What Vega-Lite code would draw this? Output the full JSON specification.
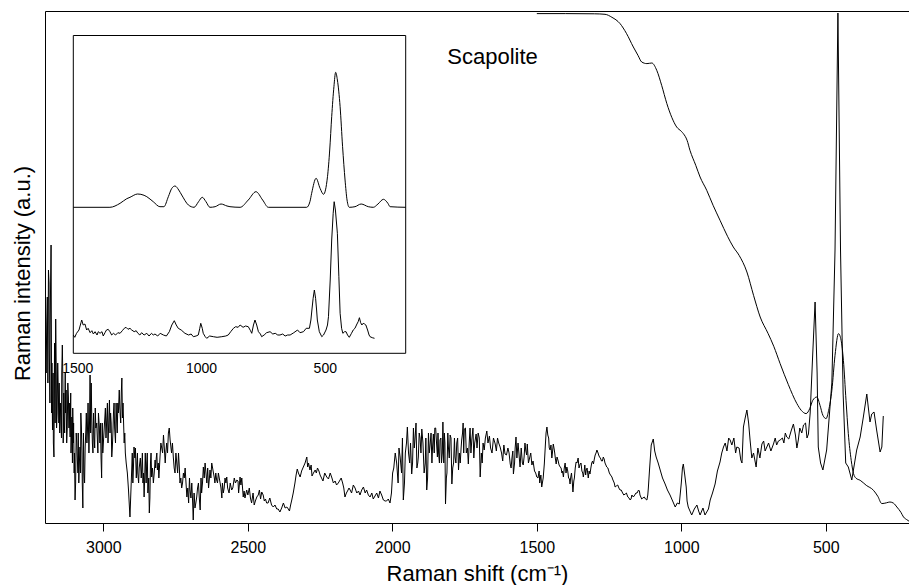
{
  "$schema": "https://vega.github.io/schema/vega-lite/v6.json",
  "width": 864,
  "height": 512,
  "autosize": {"type": "none"},
  "padding": {"left": 45, "top": 11, "right": 0, "bottom": 62},
  "background": "white",
  "config": {
    "font": "Liberation Sans",
    "view": {"stroke": null},
    "axis": {"grid": false, "labelColor": "black", "titleColor": "black", "domainColor": "black", "tickColor": "black", "titleFontWeight": "normal", "labelFont": "Liberation Sans", "titleFont": "Liberation Sans"}
  },
  "datasets": {
    "raw": [
      {"w":3202,"v":120},{"w":3198,"v":150},{"w":3194,"v":226},{"w":3190,"v":253},{"w":3187,"v":170},{"w":3184,"v":193},{"w":3181,"v":278},{"w":3178,"v":160},{"w":3176,"v":93},{"w":3171,"v":66},{"w":3168,"v":140},{"w":3165,"v":204},{"w":3160,"v":110},{"w":3156,"v":133},{"w":3151,"v":90},{"w":3147,"v":100},{"w":3144,"v":150},{"w":3142,"v":178},{"w":3139,"v":80},{"w":3136,"v":106},{"w":3132,"v":150},{"w":3129,"v":133},{"w":3125,"v":95},{"w":3121,"v":126},{"w":3118,"v":120},{"w":3115,"v":86},{"w":3112,"v":70},{"w":3109,"v":106},{"w":3106,"v":115},{"w":3104,"v":80},{"w":3101,"v":50},{"w":3098,"v":23},{"w":3094,"v":90},{"w":3090,"v":63},{"w":3085,"v":40},{"w":3081,"v":76},{"w":3076,"v":95},{"w":3071,"v":15},{"w":3067,"v":50},{"w":3063,"v":76},{"w":3059,"v":110},{"w":3055,"v":93},{"w":3050,"v":70},{"w":3046,"v":148},{"w":3043,"v":125},{"w":3040,"v":103},{"w":3036,"v":70},{"w":3032,"v":86},{"w":3028,"v":115},{"w":3023,"v":100},{"w":3019,"v":70},{"w":3014,"v":96},{"w":3010,"v":100},{"w":3006,"v":45},{"w":3002,"v":70},{"w":2998,"v":90},{"w":2993,"v":115},{"w":2988,"v":106},{"w":2984,"v":80},{"w":2979,"v":123},{"w":2975,"v":110},{"w":2971,"v":66},{"w":2967,"v":90},{"w":2963,"v":120},{"w":2958,"v":80},{"w":2954,"v":103},{"w":2950,"v":120},{"w":2945,"v":133},{"w":2940,"v":100},{"w":2936,"v":145},{"w":2932,"v":120},{"w":2928,"v":80},{"w":2924,"v":70},{"w":2921,"v":60},{"w":2917,"v":50},{"w":2913,"v":33},{"w":2908,"v":6},{"w":2902,"v":53},{"w":2898,"v":40},{"w":2894,"v":76},{"w":2889,"v":75},{"w":2884,"v":60},{"w":2881,"v":50},{"w":2878,"v":40},{"w":2872,"v":65},{"w":2867,"v":56},{"w":2863,"v":40},{"w":2859,"v":26},{"w":2855,"v":70},{"w":2850,"v":60},{"w":2846,"v":30},{"w":2841,"v":10},{"w":2837,"v":60},{"w":2833,"v":46},{"w":2827,"v":40},{"w":2821,"v":63},{"w":2817,"v":65},{"w":2813,"v":53},{"w":2808,"v":45},{"w":2804,"v":66},{"w":2798,"v":75},{"w":2792,"v":88},{"w":2786,"v":60},{"w":2781,"v":80},{"w":2775,"v":90},{"w":2769,"v":83},{"w":2764,"v":70},{"w":2758,"v":66},{"w":2752,"v":50},{"w":2746,"v":60},{"w":2740,"v":70},{"w":2735,"v":40},{"w":2729,"v":35},{"w":2723,"v":50},{"w":2717,"v":55},{"w":2711,"v":26},{"w":2705,"v":20},{"w":2700,"v":33},{"w":2694,"v":40},{"w":2689,"v":3},{"w":2683,"v":15},{"w":2677,"v":26},{"w":2671,"v":40},{"w":2665,"v":13},{"w":2660,"v":30},{"w":2654,"v":56},{"w":2648,"v":60},{"w":2642,"v":40},{"w":2636,"v":35},{"w":2631,"v":53},{"w":2625,"v":60},{"w":2619,"v":50},{"w":2614,"v":40},{"w":2608,"v":43},{"w":2602,"v":50},{"w":2596,"v":40},{"w":2590,"v":25},{"w":2585,"v":30},{"w":2579,"v":45},{"w":2573,"v":46},{"w":2565,"v":30},{"w":2556,"v":33},{"w":2547,"v":45},{"w":2538,"v":43},{"w":2532,"v":30},{"w":2527,"v":46},{"w":2521,"v":45},{"w":2516,"v":26},{"w":2510,"v":25},{"w":2504,"v":33},{"w":2495,"v":35},{"w":2487,"v":20},{"w":2478,"v":18},{"w":2469,"v":26},{"w":2460,"v":33},{"w":2452,"v":31},{"w":2443,"v":22},{"w":2435,"v":20},{"w":2424,"v":25},{"w":2412,"v":16},{"w":2400,"v":14},{"w":2389,"v":11},{"w":2377,"v":20},{"w":2365,"v":16},{"w":2356,"v":12},{"w":2348,"v":23},{"w":2337,"v":40},{"w":2329,"v":54},{"w":2319,"v":46},{"w":2308,"v":56},{"w":2296,"v":66},{"w":2290,"v":60},{"w":2285,"v":53},{"w":2278,"v":47},{"w":2267,"v":53},{"w":2259,"v":55},{"w":2250,"v":48},{"w":2240,"v":42},{"w":2227,"v":46},{"w":2215,"v":50},{"w":2204,"v":40},{"w":2193,"v":38},{"w":2181,"v":43},{"w":2172,"v":40},{"w":2164,"v":26},{"w":2155,"v":32},{"w":2146,"v":33},{"w":2135,"v":38},{"w":2123,"v":30},{"w":2112,"v":28},{"w":2100,"v":36},{"w":2089,"v":33},{"w":2077,"v":26},{"w":2066,"v":24},{"w":2054,"v":30},{"w":2043,"v":32},{"w":2031,"v":23},{"w":2020,"v":22},{"w":2008,"v":20},{"w":1999,"v":50},{"w":1985,"v":60},{"w":1973,"v":66},{"w":1962,"v":23},{"w":1955,"v":70},{"w":1948,"v":96},{"w":1940,"v":60},{"w":1933,"v":49},{"w":1927,"v":95},{"w":1921,"v":86},{"w":1915,"v":55},{"w":1910,"v":66},{"w":1904,"v":85},{"w":1898,"v":94},{"w":1890,"v":50},{"w":1881,"v":33},{"w":1875,"v":90},{"w":1869,"v":79},{"w":1863,"v":60},{"w":1858,"v":89},{"w":1850,"v":95},{"w":1844,"v":66},{"w":1840,"v":70},{"w":1835,"v":83},{"w":1830,"v":60},{"w":1825,"v":101},{"w":1820,"v":90},{"w":1816,"v":19},{"w":1811,"v":50},{"w":1806,"v":76},{"w":1800,"v":88},{"w":1794,"v":39},{"w":1788,"v":60},{"w":1783,"v":66},{"w":1777,"v":80},{"w":1771,"v":53},{"w":1765,"v":60},{"w":1760,"v":83},{"w":1755,"v":100},{"w":1751,"v":94},{"w":1744,"v":70},{"w":1737,"v":59},{"w":1731,"v":95},{"w":1725,"v":83},{"w":1718,"v":65},{"w":1710,"v":89},{"w":1703,"v":90},{"w":1696,"v":46},{"w":1689,"v":60},{"w":1682,"v":73},{"w":1673,"v":92},{"w":1664,"v":87},{"w":1655,"v":70},{"w":1644,"v":79},{"w":1636,"v":85},{"w":1627,"v":76},{"w":1618,"v":62},{"w":1610,"v":69},{"w":1600,"v":75},{"w":1592,"v":59},{"w":1586,"v":65},{"w":1581,"v":49},{"w":1577,"v":60},{"w":1572,"v":86},{"w":1565,"v":80},{"w":1558,"v":56},{"w":1550,"v":60},{"w":1544,"v":66},{"w":1538,"v":72},{"w":1533,"v":79},{"w":1525,"v":65},{"w":1517,"v":58},{"w":1508,"v":52},{"w":1500,"v":46},{"w":1492,"v":52},{"w":1490,"v":40},{"w":1483,"v":36},{"w":1474,"v":59},{"w":1470,"v":80},{"w":1465,"v":96},{"w":1459,"v":85},{"w":1454,"v":73},{"w":1448,"v":65},{"w":1443,"v":79},{"w":1438,"v":70},{"w":1433,"v":59},{"w":1426,"v":62},{"w":1419,"v":56},{"w":1413,"v":50},{"w":1408,"v":46},{"w":1402,"v":60},{"w":1396,"v":56},{"w":1390,"v":45},{"w":1385,"v":39},{"w":1380,"v":50},{"w":1375,"v":31},{"w":1370,"v":45},{"w":1364,"v":61},{"w":1357,"v":65},{"w":1350,"v":59},{"w":1344,"v":52},{"w":1339,"v":46},{"w":1334,"v":58},{"w":1329,"v":53},{"w":1322,"v":45},{"w":1316,"v":49},{"w":1310,"v":60},{"w":1304,"v":59},{"w":1298,"v":68},{"w":1292,"v":73},{"w":1288,"v":70},{"w":1283,"v":66},{"w":1276,"v":62},{"w":1270,"v":66},{"w":1264,"v":60},{"w":1258,"v":56},{"w":1249,"v":50},{"w":1240,"v":46},{"w":1235,"v":42},{"w":1229,"v":36},{"w":1220,"v":38},{"w":1212,"v":33},{"w":1203,"v":30},{"w":1194,"v":29},{"w":1185,"v":26},{"w":1177,"v":23},{"w":1171,"v":28},{"w":1166,"v":26},{"w":1157,"v":30},{"w":1148,"v":33},{"w":1143,"v":28},{"w":1137,"v":24},{"w":1128,"v":26},{"w":1119,"v":23},{"w":1114,"v":35},{"w":1110,"v":53},{"w":1104,"v":78},{"w":1097,"v":84},{"w":1092,"v":72},{"w":1087,"v":66},{"w":1080,"v":60},{"w":1073,"v":53},{"w":1065,"v":45},{"w":1056,"v":39},{"w":1048,"v":33},{"w":1039,"v":28},{"w":1030,"v":22},{"w":1021,"v":16},{"w":1014,"v":20},{"w":1007,"v":19},{"w":1000,"v":40},{"w":996,"v":55},{"w":993,"v":59},{"w":988,"v":48},{"w":983,"v":36},{"w":980,"v":22},{"w":976,"v":16},{"w":970,"v":12},{"w":964,"v":8},{"w":955,"v":14},{"w":946,"v":18},{"w":940,"v":12},{"w":935,"v":8},{"w":925,"v":15},{"w":918,"v":8},{"w":912,"v":11},{"w":906,"v":14},{"w":900,"v":23},{"w":892,"v":30},{"w":883,"v":39},{"w":875,"v":52},{"w":866,"v":61},{"w":860,"v":70},{"w":854,"v":76},{"w":848,"v":80},{"w":842,"v":72},{"w":836,"v":85},{"w":831,"v":83},{"w":825,"v":78},{"w":818,"v":85},{"w":812,"v":70},{"w":808,"v":76},{"w":800,"v":75},{"w":794,"v":63},{"w":790,"v":60},{"w":785,"v":96},{"w":779,"v":105},{"w":773,"v":113},{"w":767,"v":100},{"w":762,"v":83},{"w":756,"v":65},{"w":750,"v":70},{"w":741,"v":56},{"w":735,"v":75},{"w":728,"v":65},{"w":721,"v":79},{"w":715,"v":82},{"w":710,"v":72},{"w":704,"v":76},{"w":698,"v":80},{"w":690,"v":72},{"w":681,"v":79},{"w":675,"v":85},{"w":670,"v":78},{"w":664,"v":82},{"w":658,"v":83},{"w":650,"v":85},{"w":645,"v":80},{"w":640,"v":90},{"w":635,"v":86},{"w":628,"v":84},{"w":620,"v":92},{"w":612,"v":99},{"w":605,"v":88},{"w":600,"v":75},{"w":595,"v":83},{"w":590,"v":95},{"w":583,"v":90},{"w":577,"v":98},{"w":570,"v":100},{"w":565,"v":85},{"w":560,"v":89},{"w":554,"v":110},{"w":545,"v":170},{"w":537,"v":221},{"w":530,"v":150},{"w":526,"v":76},{"w":518,"v":60},{"w":510,"v":53},{"w":497,"v":73},{"w":479,"v":140},{"w":468,"v":273},{"w":458,"v":510},{"w":449,"v":273},{"w":440,"v":130},{"w":431,"v":60},{"w":422,"v":56},{"w":410,"v":43},{"w":393,"v":73},{"w":381,"v":86},{"w":370,"v":106},{"w":358,"v":129},{"w":353,"v":116},{"w":347,"v":101},{"w":341,"v":109},{"w":333,"v":111},{"w":324,"v":93},{"w":312,"v":71},{"w":306,"v":76},{"w":301,"v":107},
      {"w":3200,"v":180},{"w":3196,"v":200},{"w":3192,"v":140},{"w":3188,"v":240},{"w":3185,"v":120},{"w":3183,"v":230},{"w":3179,"v":110},{"w":3174,"v":150},{"w":3173,"v":80},{"w":3169,"v":180},{"w":3167,"v":100},{"w":3163,"v":150},{"w":3162,"v":95},{"w":3158,"v":160},{"w":3154,"v":100},{"w":3153,"v":140},{"w":3149,"v":120},{"w":3145,"v":85},{"w":3140,"v":140},{"w":3137,"v":130},{"w":3134,"v":90},{"w":3131,"v":110},{"w":3127,"v":80},{"w":3123,"v":140},{"w":3119,"v":95},{"w":3117,"v":105},{"w":3113,"v":130},{"w":3110,"v":90},{"w":3107,"v":60},{"w":3103,"v":100},{"w":3100,"v":70},{"w":3096,"v":40},{"w":3092,"v":80},{"w":3088,"v":50},{"w":3087,"v":90},{"w":3083,"v":60},{"w":3079,"v":50},{"w":3078,"v":110},{"w":3074,"v":70},{"w":3073,"v":40},{"w":3069,"v":90},{"w":3065,"v":40},{"w":3061,"v":90},{"w":3057,"v":80},{"w":3053,"v":120},{"w":3048,"v":100},{"w":3044,"v":90},{"w":3042,"v":140},{"w":3038,"v":80},{"w":3034,"v":110},{"w":3030,"v":75},{"w":3026,"v":95},{"w":3021,"v":85},{"w":3017,"v":110},{"w":3012,"v":80},{"w":3008,"v":65},{"w":3004,"v":100},{"w":3000,"v":80},{"w":2996,"v":100},{"w":2991,"v":85},{"w":2986,"v":120},{"w":2982,"v":95},{"w":2977,"v":90},{"w":2973,"v":100},{"w":2969,"v":75},{"w":2965,"v":110},{"w":2961,"v":95},{"w":2956,"v":120},{"w":2952,"v":90},{"w":2948,"v":110},{"w":2943,"v":115},{"w":2938,"v":130},{"w":2934,"v":105},{"w":2930,"v":100},{"w":2926,"v":90},
      {"w":2900,"v":70},{"w":2896,"v":55},{"w":2891,"v":65},{"w":2886,"v":45},{"w":2882,"v":70},{"w":2876,"v":55},{"w":2869,"v":45},{"w":2865,"v":70},{"w":2861,"v":50},{"w":2857,"v":45},{"w":2852,"v":40},{"w":2848,"v":70},{"w":2843,"v":45},{"w":2839,"v":25},{"w":2835,"v":70},{"w":2830,"v":55},{"w":2824,"v":50},{"w":2819,"v":55},{"w":2815,"v":70},{"w":2810,"v":60},{"w":2806,"v":55},{"w":2801,"v":80},{"w":2795,"v":70},{"w":2789,"v":75},{"w":2784,"v":70},{"w":2778,"v":70},{"w":2772,"v":95},{"w":2766,"v":75},{"w":2761,"v":80},{"w":2755,"v":55},{"w":2749,"v":70},{"w":2743,"v":50},{"w":2737,"v":55},{"w":2732,"v":45},{"w":2726,"v":40},{"w":2720,"v":45},{"w":2714,"v":40},{"w":2708,"v":35},{"w":2702,"v":45},{"w":2697,"v":25},{"w":2691,"v":20},{"w":2686,"v":30},{"w":2680,"v":20},{"w":2674,"v":35},{"w":2668,"v":25},{"w":2662,"v":45},{"w":2657,"v":40},{"w":2651,"v":45},{"w":2645,"v":50},{"w":2639,"v":55},{"w":2633,"v":45},{"w":2628,"v":45},{"w":2622,"v":55},{"w":2616,"v":45},{"w":2611,"v":50},{"w":2605,"v":40},{"w":2599,"v":45},{"w":2593,"v":35},{"w":2588,"v":40},{"w":2582,"v":35},{"w":2576,"v":40},{"w":2570,"v":35},{"w":2561,"v":40},{"w":2552,"v":35},{"w":2543,"v":40},{"w":2534,"v":42},{"w":2524,"v":38},{"w":2513,"v":32},{"w":2500,"v":28},{"w":2491,"v":25},{"w":2482,"v":30},{"w":2474,"v":22},{"w":2464,"v":28},{"w":2456,"v":24},{"w":2447,"v":28},{"w":2439,"v":24},{"w":2430,"v":20},{"w":2418,"v":18},{"w":2406,"v":18},{"w":2395,"v":14},{"w":2383,"v":15},{"w":2371,"v":15},{"w":2360,"v":14},{"w":2352,"v":18},
      {"w":2343,"v":30},{"w":2333,"v":48},{"w":2325,"v":50},{"w":2314,"v":52},{"w":2302,"v":60},{"w":2293,"v":56},{"w":2281,"v":58},{"w":2273,"v":50},{"w":2263,"v":50},{"w":2254,"v":52},{"w":2245,"v":45},{"w":2234,"v":50},{"w":2221,"v":44},{"w":2209,"v":45},{"w":2198,"v":42},{"w":2187,"v":40},{"w":2177,"v":45},{"w":2168,"v":35},{"w":2159,"v":30},{"w":2150,"v":35},{"w":2141,"v":30},{"w":2129,"v":35},{"w":2117,"v":32},{"w":2106,"v":33},{"w":2094,"v":30},{"w":2083,"v":28},{"w":2071,"v":30},{"w":2060,"v":27},{"w":2048,"v":25},{"w":2037,"v":28},{"w":2025,"v":22},{"w":2014,"v":24},{"w":2003,"v":30},
      {"w":1995,"v":55},{"w":1990,"v":70},{"w":1980,"v":40},{"w":1977,"v":75},{"w":1968,"v":50},{"w":1965,"v":85},{"w":1958,"v":40},{"w":1951,"v":80},{"w":1944,"v":70},{"w":1937,"v":80},{"w":1930,"v":60},{"w":1924,"v":75},{"w":1918,"v":100},{"w":1912,"v":60},{"w":1907,"v":90},{"w":1901,"v":70},{"w":1894,"v":80},{"w":1886,"v":60},{"w":1884,"v":85},{"w":1878,"v":45},{"w":1872,"v":70},{"w":1866,"v":90},{"w":1861,"v":75},{"w":1855,"v":70},{"w":1853,"v":95},{"w":1847,"v":80},{"w":1842,"v":90},{"w":1837,"v":60},{"w":1832,"v":85},{"w":1827,"v":70},{"w":1822,"v":60},{"w":1818,"v":80},{"w":1813,"v":45},{"w":1808,"v":90},{"w":1803,"v":65},{"w":1797,"v":85},{"w":1791,"v":55},{"w":1785,"v":85},{"w":1780,"v":60},{"w":1774,"v":85},{"w":1768,"v":70},{"w":1762,"v":75},{"w":1757,"v":90},{"w":1753,"v":70},{"w":1747,"v":95},{"w":1740,"v":75},{"w":1734,"v":80},{"w":1728,"v":70},{"w":1721,"v":95},{"w":1715,"v":80},{"w":1707,"v":75},{"w":1699,"v":85},{"w":1692,"v":70},{"w":1686,"v":80},{"w":1678,"v":85},{"w":1669,"v":80},{"w":1660,"v":75},{"w":1650,"v":85},{"w":1640,"v":72},{"w":1632,"v":80},{"w":1622,"v":70},{"w":1614,"v":78},{"w":1605,"v":68},{"w":1596,"v":70},{"w":1589,"v":55},{"w":1583,"v":72},{"w":1575,"v":75},{"w":1569,"v":65},{"w":1562,"v":70},{"w":1554,"v":75},{"w":1547,"v":58},{"w":1541,"v":80},{"w":1535,"v":68},{"w":1529,"v":60},{"w":1521,"v":70},{"w":1513,"v":62},{"w":1504,"v":50},{"w":1496,"v":45},{"w":1486,"v":48},{"w":1478,"v":45},
      {"w":1468,"v":90},{"w":1462,"v":88},{"w":1457,"v":75},{"w":1451,"v":78},{"w":1446,"v":70},{"w":1440,"v":74},{"w":1436,"v":65},{"w":1430,"v":66},{"w":1423,"v":58},{"w":1416,"v":55},{"w":1411,"v":52},{"w":1405,"v":55},{"w":1399,"v":50},{"w":1393,"v":52},{"w":1387,"v":44},{"w":1383,"v":45},{"w":1377,"v":40},{"w":1372,"v":42},{"w":1367,"v":55},{"w":1361,"v":60},{"w":1354,"v":55},{"w":1347,"v":60},{"w":1341,"v":50},{"w":1336,"v":52},{"w":1331,"v":48},{"w":1326,"v":55},{"w":1319,"v":52},{"w":1313,"v":55},{"w":1307,"v":62},{"w":1301,"v":64},{"w":1295,"v":70},{"w":1286,"v":68},{"w":1280,"v":65},{"w":1273,"v":62},{"w":1267,"v":64},{"w":1261,"v":58},{"w":1254,"v":55},{"w":1245,"v":48},{"w":1238,"v":44},{"w":1232,"v":40},{"w":1225,"v":37},{"w":1216,"v":35},{"w":1208,"v":33},{"w":1199,"v":28},{"w":1190,"v":30},{"w":1181,"v":25},{"w":1174,"v":24},{"w":1161,"v":28},{"w":1153,"v":30},{"w":1145,"v":32},{"w":1140,"v":26},{"w":1133,"v":25},{"w":1124,"v":24},{"w":1116,"v":28}
    ],
    "fit": [
      {"w":1500,"v":509.4},{"w":1400,"v":509.4},{"w":1300,"v":509.2},{"w":1264,"v":508.7},{"w":1240,"v":505.7},{"w":1212,"v":499.4},{"w":1190,"v":489.7},{"w":1166,"v":476},{"w":1150,"v":467.7},{"w":1137,"v":461},{"w":1119,"v":459.4},{"w":1102,"v":460},{"w":1085,"v":452.7},{"w":1068,"v":437.7},{"w":1050,"v":419.4},{"w":1033,"v":405.7},{"w":1016,"v":396},{"w":1000,"v":391.7},{"w":993,"v":389.4},{"w":980,"v":382.7},{"w":970,"v":372.7},{"w":950,"v":357.7},{"w":935,"v":346},{"w":912,"v":332.7},{"w":890,"v":317.7},{"w":866,"v":302.7},{"w":840,"v":286.7},{"w":820,"v":276},{"w":800,"v":267.7},{"w":773,"v":251},{"w":750,"v":227.7},{"w":727,"v":206},{"w":700,"v":189.7},{"w":680,"v":176.7},{"w":658,"v":159.4},{"w":630,"v":138.7},{"w":600,"v":119.4},{"w":585,"v":112.7},{"w":568,"v":109.4},{"w":555,"v":114.7},{"w":545,"v":122.7},{"w":531,"v":126},{"w":520,"v":117.7},{"w":510,"v":107.7},{"w":499,"v":104.4},{"w":490,"v":112.7},{"w":479,"v":132.7},{"w":468,"v":167.7},{"w":456,"v":189.4},{"w":447,"v":182.7},{"w":439,"v":162.7},{"w":430,"v":122.7},{"w":422,"v":89.4},{"w":412,"v":62.7},{"w":404,"v":49.4},{"w":395,"v":44.7},{"w":381,"v":42.7},{"w":360,"v":37.7},{"w":335,"v":32.7},{"w":320,"v":26.7},{"w":306,"v":19.4},{"w":290,"v":20.2},{"w":278,"v":21},{"w":265,"v":19.7},{"w":254,"v":16},{"w":240,"v":10.7},{"w":231,"v":6},{"w":220,"v":3.4},{"w":212,"v":1.8}
    ],
    "insetFit": [
      {"w":1516,"v":146},{"w":1368,"v":146},{"w":1327,"v":150},{"w":1300,"v":154.6},{"w":1287,"v":156},{"w":1256,"v":159.3},{"w":1230,"v":158},{"w":1219,"v":156.6},{"w":1193,"v":151.6},{"w":1166,"v":146.6},{"w":1150,"v":146.6},{"w":1132,"v":156.6},{"w":1118,"v":165},{"w":1105,"v":167.3},{"w":1090,"v":163.3},{"w":1078,"v":158.3},{"w":1051,"v":148.3},{"w":1028,"v":146},{"w":1010,"v":151.6},{"w":995,"v":156},{"w":980,"v":151.6},{"w":964,"v":146},{"w":943,"v":146.6},{"w":919,"v":149.3},{"w":895,"v":147.3},{"w":883,"v":146.6},{"w":842,"v":146},{"w":809,"v":153.3},{"w":778,"v":161.6},{"w":751,"v":153.3},{"w":728,"v":146},{"w":573,"v":146},{"w":560,"v":151.6},{"w":553,"v":160},{"w":535,"v":175},{"w":519,"v":165},{"w":505,"v":159},{"w":489,"v":176.6},{"w":480,"v":203.3},{"w":472,"v":236.6},{"w":463,"v":266.6},{"w":456,"v":281},{"w":449,"v":273.3},{"w":438,"v":246.6},{"w":428,"v":206.6},{"w":418,"v":173.3},{"w":410,"v":153.3},{"w":401,"v":146},{"w":378,"v":146.6},{"w":353,"v":149.3},{"w":324,"v":146.6},{"w":304,"v":146},{"w":285,"v":149.3},{"w":263,"v":154},{"w":245,"v":150},{"w":236,"v":146.6},{"w":173,"v":146}
    ],
    "insetRaw": [
      {"w":1516,"v":18.3},{"w":1510,"v":16},{"w":1503,"v":20},{"w":1493,"v":23.3},{"w":1485,"v":30.6},{"w":1482,"v":33.3},{"w":1476,"v":28.3},{"w":1469,"v":29.3},{"w":1462,"v":23.3},{"w":1456,"v":25},{"w":1448,"v":20.6},{"w":1441,"v":22.6},{"w":1435,"v":19.3},{"w":1428,"v":21.6},{"w":1420,"v":18.3},{"w":1415,"v":21.6},{"w":1408,"v":20},{"w":1400,"v":21.6},{"w":1395,"v":17.3},{"w":1388,"v":20.6},{"w":1382,"v":23.3},{"w":1375,"v":24},{"w":1368,"v":21.6},{"w":1361,"v":18.3},{"w":1354,"v":20},{"w":1345,"v":18.3},{"w":1336,"v":20.6},{"w":1327,"v":20},{"w":1318,"v":22.6},{"w":1310,"v":25},{"w":1303,"v":26},{"w":1295,"v":24},{"w":1287,"v":25},{"w":1280,"v":23.3},{"w":1270,"v":21.6},{"w":1262,"v":22.6},{"w":1255,"v":20},{"w":1247,"v":18.3},{"w":1240,"v":20.6},{"w":1230,"v":18.3},{"w":1219,"v":20},{"w":1210,"v":17.3},{"w":1200,"v":20},{"w":1193,"v":18.3},{"w":1186,"v":19.3},{"w":1175,"v":17.3},{"w":1165,"v":20},{"w":1152,"v":18.3},{"w":1140,"v":17.3},{"w":1128,"v":21.6},{"w":1118,"v":28.3},{"w":1108,"v":32.6},{"w":1100,"v":28.3},{"w":1092,"v":25},{"w":1080,"v":23.3},{"w":1065,"v":20},{"w":1050,"v":18.3},{"w":1040,"v":19.3},{"w":1031,"v":16.6},{"w":1020,"v":17.3},{"w":1011,"v":18.3},{"w":1005,"v":25},{"w":1001,"v":30},{"w":995,"v":25},{"w":991,"v":20},{"w":983,"v":16.6},{"w":977,"v":15},{"w":965,"v":17.3},{"w":950,"v":16.6},{"w":935,"v":16},{"w":916,"v":16.6},{"w":900,"v":17.3},{"w":890,"v":18.3},{"w":880,"v":21.6},{"w":869,"v":25},{"w":860,"v":26.6},{"w":850,"v":26},{"w":842,"v":28.3},{"w":830,"v":26},{"w":820,"v":27.3},{"w":809,"v":26.6},{"w":800,"v":22.6},{"w":795,"v":20},{"w":788,"v":28.3},{"w":782,"v":33.3},{"w":775,"v":28.3},{"w":768,"v":21.6},{"w":760,"v":19.3},{"w":755,"v":16.6},{"w":745,"v":18.3},{"w":735,"v":20.6},{"w":721,"v":21.6},{"w":710,"v":19.3},{"w":700,"v":20},{"w":690,"v":18.3},{"w":681,"v":18.3},{"w":670,"v":19.3},{"w":660,"v":17.3},{"w":650,"v":18.3},{"w":640,"v":18.3},{"w":625,"v":20.6},{"w":610,"v":23.3},{"w":600,"v":20.6},{"w":586,"v":21.6},{"w":575,"v":25},{"w":562,"v":25},{"w":556,"v":33.3},{"w":552,"v":43.3},{"w":547,"v":55},{"w":542,"v":63.3},{"w":537,"v":55},{"w":533,"v":43.3},{"w":530,"v":33.3},{"w":522,"v":21.6},{"w":512,"v":16.6},{"w":505,"v":18.3},{"w":495,"v":23.3},{"w":489,"v":28.3},{"w":485,"v":36.6},{"w":478,"v":73.3},{"w":472,"v":113.3},{"w":466,"v":140},{"w":462,"v":151.6},{"w":457,"v":143.3},{"w":449,"v":120},{"w":443,"v":76.6},{"w":438,"v":40},{"w":432,"v":25},{"w":427,"v":20},{"w":420,"v":21.6},{"w":414,"v":21.6},{"w":408,"v":18.3},{"w":401,"v":16},{"w":392,"v":20},{"w":385,"v":23.3},{"w":378,"v":25},{"w":370,"v":29.3},{"w":365,"v":31.6},{"w":360,"v":35.6},{"w":355,"v":30.6},{"w":350,"v":28.3},{"w":345,"v":30},{"w":339,"v":29.3},{"w":334,"v":28.3},{"w":327,"v":23.3},{"w":321,"v":18.3},{"w":317,"v":16.6},{"w":308,"v":15.6},{"w":299,"v":15}
    ]
  },
  "layer": [
    {
      "layer": [
        {
          "data": {"name": "raw"},
          "mark": {"type": "line", "color": "black", "strokeWidth": 1, "clip": true},
          "encoding": {
            "x": {"field": "w", "type": "quantitative",
              "scale": {"domain": [212, 3202], "reverse": true, "nice": false, "zero": false},
              "axis": {"orient": "bottom", "values": [3000, 2500, 2000, 1500, 1000, 500], "format": "d", "tickSize": 8, "labelPadding": 8, "labelFontSize": 16, "labelFlush": false, "title": "Raman shift (cm⁻¹)", "titleFontSize": 22, "titlePadding": 8}},
            "y": {"field": "v", "type": "quantitative",
              "scale": {"domain": [0, 512], "nice": false, "zero": false},
              "axis": {"values": [512], "grid": true, "gridColor": "black", "gridOpacity": 1, "ticks": false, "labels": false, "title": "Raman intensity (a.u.)", "titleFontSize": 22, "titlePadding": 11, "titleY": 262}}
          }
        },
        {
          "data": {"name": "fit"},
          "mark": {"type": "line", "color": "black", "strokeWidth": 1, "interpolate": "monotone", "clip": true},
          "encoding": {
            "x": {"field": "w", "type": "quantitative"},
            "y": {"field": "v", "type": "quantitative"}
          }
        },
        {
          "data": {"values": [{"label": "Scapolite"}]},
          "mark": {"type": "text", "fontSize": 22, "font": "Liberation Sans", "align": "center", "baseline": "alphabetic", "color": "black"},
          "encoding": {
            "x": {"datum": 1653, "type": "quantitative"},
            "y": {"datum": 459, "type": "quantitative"},
            "text": {"field": "label"}
          }
        }
      ]
    },
    {
      "layer": [
        {
          "data": {"values": [{"frame": "inset"}]},
          "mark": {"type": "rect", "fill": null, "fillOpacity": 0, "stroke": "black", "strokeWidth": 1},
          "encoding": {
            "x": {"datum": 1516, "type": "quantitative",
              "scale": {"domain": [173, 1516], "reverse": true, "nice": false, "zero": false, "range": [28.3, 360.7]},
              "axis": {"orient": "bottom", "offset": -169.7, "values": [1500, 1000, 500], "format": "d", "ticks": false, "tickSize": 0, "domain": false, "labelPadding": 8, "labelFontSize": 14, "labelFlush": false, "title": null}},
            "x2": {"datum": 173},
            "y": {"datum": 0, "type": "quantitative",
              "scale": {"domain": [0, 317.8], "nice": false, "zero": false, "range": [342.3, 24.5]},
              "axis": null},
            "y2": {"datum": 317.8}
          }
        },
        {
          "data": {"name": "insetFit"},
          "mark": {"type": "line", "color": "black", "strokeWidth": 1, "interpolate": "monotone"},
          "encoding": {
            "x": {"field": "w", "type": "quantitative"},
            "y": {"field": "v", "type": "quantitative"}
          }
        },
        {
          "data": {"name": "insetRaw"},
          "mark": {"type": "line", "color": "black", "strokeWidth": 1},
          "encoding": {
            "x": {"field": "w", "type": "quantitative"},
            "y": {"field": "v", "type": "quantitative"}
          }
        }
      ]
    }
  ],
  "resolve": {"scale": {"x": "independent", "y": "independent"}, "axis": {"x": "independent", "y": "independent"}}
}
